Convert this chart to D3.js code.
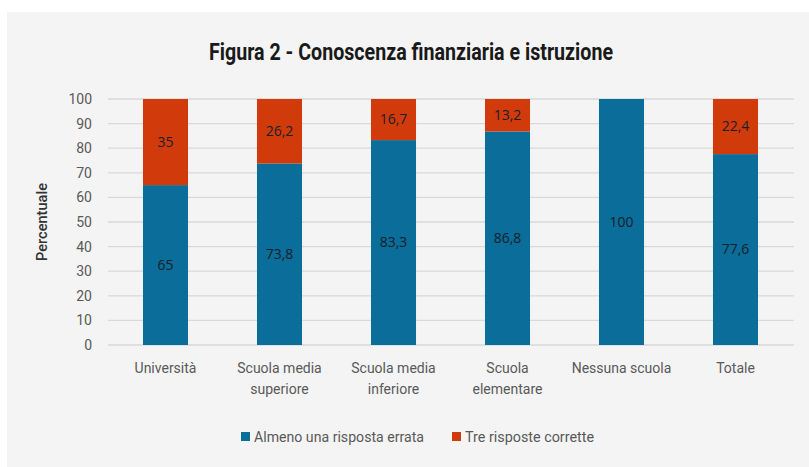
<!DOCTYPE html>
<html>
<head>
<meta charset="utf-8">
<script src="https://cdn.jsdelivr.net/npm/d3@7"></script>
<style>
  body { margin: 0; background: #fff; }
  text { font-family: Roboto, "Noto Sans", sans-serif; }
</style>
</head>
<body>
<div id="corpo"></div>
<script>
// dati
var categorie = ["Università", "Scuola media\nsuperiore", "Scuola media\ninferiore", "Scuola\nelementare", "Nessuna scuola", "Totale"];
var errata = [65, 73.8, 83.3, 86.8, 100, 77.6];
var corrette = [35, 26.2, 16.7, 13.2, 0, 22.4];
var serie = ["Almeno una risposta errata", "Tre risposte corrette"];
var yTicks = [0, 10, 20, 30, 40, 50, 60, 70, 80, 90, 100];

var width = 809, height = 467;
var colori = ["#0b6d99", "#d13b0c"];

var svg = d3.select("#corpo").append("svg")
    .attr("width", width)
    .attr("height", height);

// pannello grigio
svg.append("rect")
    .attr("x", 7).attr("y", 12)
    .attr("width", 802).attr("height", 460)
    .style("fill", "#f4f4f4");

svg.append("text")
    .attr("x", 411).attr("y", 60)
    .attr("text-anchor", "middle")
    .attr("textLength", 404)
    .attr("lengthAdjust", "spacingAndGlyphs")
    .style("font-size", "23px")
    .style("font-weight", "bold")
    .style("fill", "#1a1a1a")
    .text("Figura 2 -  Conoscenza finanziaria e istruzione");

var x = d3.scaleBand()
    .domain(categorie)
    .range([108.5, 792.5])
    .paddingInner(0.605)
    .paddingOuter(0.3025);

var y = d3.scaleLinear()
    .domain([0, 100])
    .range([345, 99]);

// griglia
svg.append("g").selectAll("line")
    .data(yTicks)
    .enter().append("line")
    .attr("x1", 108).attr("x2", 794)
    .attr("y1", function(d) { return y(d); })
    .attr("y2", function(d) { return y(d); })
    .style("stroke", "#d9d9d9")
    .style("stroke-width", 1.3);

var yAxis = svg.append("g")
    .attr("transform", "translate(100,0)")
    .call(d3.axisLeft(y).tickValues(yTicks).tickSize(0).tickPadding(8));
yAxis.select(".domain").remove();
yAxis.selectAll("text")
    .style("font-family", "Roboto, sans-serif")
    .style("font-size", "14px")
    .style("fill", "#595959");

svg.append("text")
    .attr("transform", "translate(47,222) rotate(-90)")
    .attr("text-anchor", "middle")
    .attr("textLength", 78)
    .attr("lengthAdjust", "spacingAndGlyphs")
    .style("font-size", "15px")
    .style("font-weight", 500)
    .style("fill", "#333")
    .text("Percentuale");

var dati = categorie.map(function(c, i) {
    return { cat: c, errata: errata[i], corrette: corrette[i] };
});
var stack = d3.stack().keys(["errata", "corrette"])(dati);

var formato = function(v) { return String(v).replace(".", ","); };

var gruppi = svg.selectAll(".serie")
    .data(stack)
    .enter().append("g")
    .attr("class", "serie")
    .style("fill", function(d, i) { return colori[i]; });

gruppi.selectAll("rect")
    .data(function(d) { return d.filter(function(s) { return s.data[d.key] > 0; }); })
    .enter().append("rect")
    .attr("x", function(d) { return x(d.data.cat); })
    .attr("width", x.bandwidth())
    .attr("y", function(d) { return y(d[1]); })
    .attr("height", function(d) { return y(d[0]) - y(d[1]); });

gruppi.each(function(s) {
    d3.select(this).selectAll("text")
        .data(s.filter(function(p) { return p.data[s.key] > 0; }))
        .enter().append("text")
        .attr("x", function(d) { return x(d.data.cat) + x.bandwidth() / 2; })
        .attr("y", function(d) { return y((d[0] + d[1]) / 2); })
        .attr("dy", "0.35em")
        .attr("text-anchor", "middle")
        .style("font-family", "\"Open Sans\", sans-serif")
        .style("font-size", "14px")
        .style("fill", "#16202a")
        .text(function(d) { return formato(d.data[s.key]); });
});

// etichette categorie
var etichette = svg.append("g").selectAll("text")
    .data(categorie)
    .enter().append("text")
    .attr("x", function(d) { return x(d) + x.bandwidth() / 2; })
    .attr("y", 373)
    .attr("text-anchor", "middle")
    .style("font-size", "14px")
    .style("fill", "#595959");
etichette.each(function(d) {
    var t = d3.select(this);
    d.split("\n").forEach(function(riga, k) {
        t.append("tspan")
            .attr("x", t.attr("x"))
            .attr("dy", k == 0 ? 0 : 21)
            .text(riga);
    });
});

// legenda
var legX = [241, 452];
var legW = [170, 129];
var leg = svg.append("g").selectAll("g")
    .data(serie)
    .enter().append("g")
    .attr("transform", function(d, i) { return "translate(" + legX[i] + ",432)"; });
leg.append("rect")
    .attr("width", 9).attr("height", 9)
    .style("fill", function(d, i) { return colori[i]; });
leg.append("text")
    .attr("x", 13).attr("y", 9.5)
    .attr("textLength", function(d, i) { return legW[i]; })
    .attr("lengthAdjust", "spacingAndGlyphs")
    .style("font-size", "15px")
    .style("fill", "#595959")
    .text(function(d) { return d; });
</script>
</body>
</html>
